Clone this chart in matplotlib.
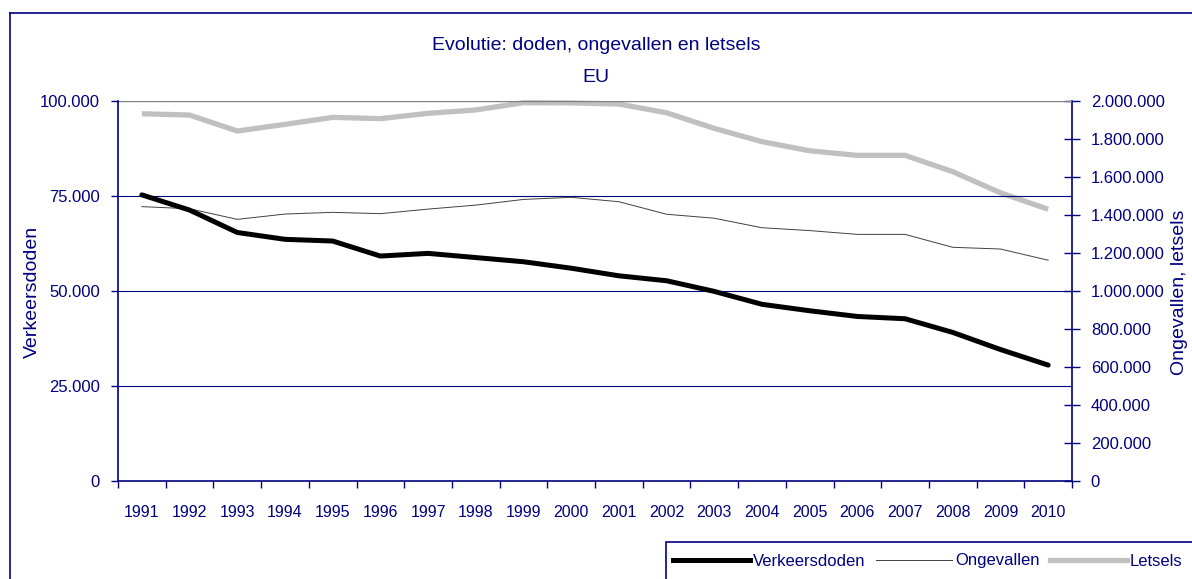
import matplotlib
matplotlib.use('Agg')
import matplotlib.pyplot as plt
from matplotlib.ticker import FuncFormatter, FixedLocator
from matplotlib.lines import Line2D
from matplotlib.patches import Rectangle

years = [str(y) for y in range(1991, 2011)]
verkeersdoden = [75300, 71300, 65400, 63600, 63150, 59200, 59900, 58800, 57700, 56000,
                 54000, 52700, 49900, 46500, 44800, 43300, 42700, 39100, 34600, 30500]
ongevallen = [1444000, 1433000, 1377000, 1405000, 1414000, 1407000, 1431000, 1452000, 1482000, 1493000,
              1470000, 1404000, 1383000, 1333000, 1318000, 1298000, 1298000, 1230000, 1221000, 1162000]
letsels = [1933000, 1926000, 1842000, 1877000, 1914000, 1907000, 1935000, 1953000, 1991000, 1990000,
           1984000, 1938000, 1856000, 1786000, 1738000, 1714000, 1714000, 1628000, 1517000, 1430000]

NAVY = '#000080'
plt.rcParams['font.family'] = ['Liberation Sans', 'DejaVu Sans']

fmt = FuncFormatter(lambda v, p: f"{int(round(v)):,}".replace(',', '.'))

fig = plt.figure(figsize=(11.92, 5.79), dpi=100)
ax = fig.add_axes([118 / 1192, 1 - 481 / 579, (1072 - 118) / 1192, (481 - 101) / 579])
ax2 = ax.twinx()

x = list(range(len(years)))
ax2.plot(x, letsels, color='#c0c0c0', lw=3.8, solid_capstyle='butt', label='Letsels', clip_on=False)
ax2.plot(x, ongevallen, color='#404040', lw=0.7, label='Ongevallen')
ax.plot(x, verkeersdoden, color='black', lw=3.6, solid_capstyle='round', label='Verkeersdoden')

ax.set_zorder(ax2.get_zorder() + 1)
ax.patch.set_visible(False)

ax.set_xlim(-0.5, len(years) - 0.5)
ax.set_ylim(0, 100000)
ax2.set_ylim(0, 2000000)

# gridlines
for v in [25000, 50000, 75000]:
    ax.axhline(v, color=NAVY, lw=0.8, zorder=0)
ax.axhline(100000, color='#808080', lw=1.0, zorder=0)

ax.set_yticks([0, 25000, 50000, 75000, 100000])
ax.yaxis.set_major_formatter(fmt)
ax2.set_yticks(range(0, 2000001, 200000))
ax2.yaxis.set_major_formatter(fmt)

ax.xaxis.set_major_locator(FixedLocator([i - 0.5 for i in range(len(years) + 1)]))
ax.xaxis.set_major_formatter(FuncFormatter(lambda v, p: ''))
ax.set_xticks(x, years, minor=True)

ax.spines['top'].set_visible(False)
ax2.spines['top'].set_visible(False)
ax.spines['right'].set_visible(False)
ax2.spines['left'].set_visible(False)
ax2.spines['bottom'].set_visible(False)
for sp in [ax.spines['left'], ax.spines['bottom'], ax2.spines['right']]:
    sp.set_color(NAVY)
    sp.set_linewidth(1.2)

ax.tick_params(axis='y', direction='out', length=5, width=1, color=NAVY, labelcolor=NAVY,
               labelsize=12, pad=8)
ax2.tick_params(axis='y', direction='inout', length=11, width=1, color=NAVY, labelcolor=NAVY,
                labelsize=12, pad=8)
ax.tick_params(axis='x', which='major', direction='out', length=5, width=1, color=NAVY)
ax.tick_params(axis='x', which='minor', length=0, labelcolor=NAVY, labelsize=11.5, pad=17.5)

fig.text(32 / 1192, 1 - 292 / 579, 'Verkeersdoden', color=NAVY, fontsize=14,
         rotation=90, ha='center', va='center')
fig.text(1179 / 1192, 1 - 292 / 579, 'Ongevallen, letsels', color=NAVY, fontsize=14,
         rotation=90, ha='center', va='center')

fig.text(596 / 1192, 1 - 45 / 579, 'Evolutie: doden, ongevallen en letsels', color=NAVY,
         fontsize=14, ha='center', va='center')
fig.text(596 / 1192, 1 - 77 / 579, 'EU', color=NAVY, fontsize=14, ha='center', va='center')

# outer chart border (runs past the image edges)
fig.add_artist(Line2D([10 / 1192, 1.0], [1 - 13 / 579] * 2, color=NAVY, lw=1.2))
fig.add_artist(Line2D([10 / 1192] * 2, [0, 1 - 13 / 579], color=NAVY, lw=1.2))

# legend
handles = [Line2D([], [], color='black', lw=3.6),
           Line2D([], [], color='#404040', lw=0.7),
           Line2D([], [], color='#c0c0c0', lw=3.8)]
fig.legend(handles, ['Verkeersdoden', 'Ongevallen', 'Letsels'], ncol=3, frameon=False,
           loc='center left', bbox_to_anchor=(673 / 1192, 1 - 561 / 579),
           borderaxespad=0, borderpad=0, handlelength=4.6, handletextpad=0.2,
           columnspacing=0.6, labelcolor=NAVY, fontsize=12)
fig.add_artist(Rectangle((666 / 1192, -0.1), 0.5, 0.1 + 1 - 542 / 579, fill=False,
                         edgecolor=NAVY, lw=1.2, transform=fig.transFigure))

fig.savefig('out.png', dpi=100)
